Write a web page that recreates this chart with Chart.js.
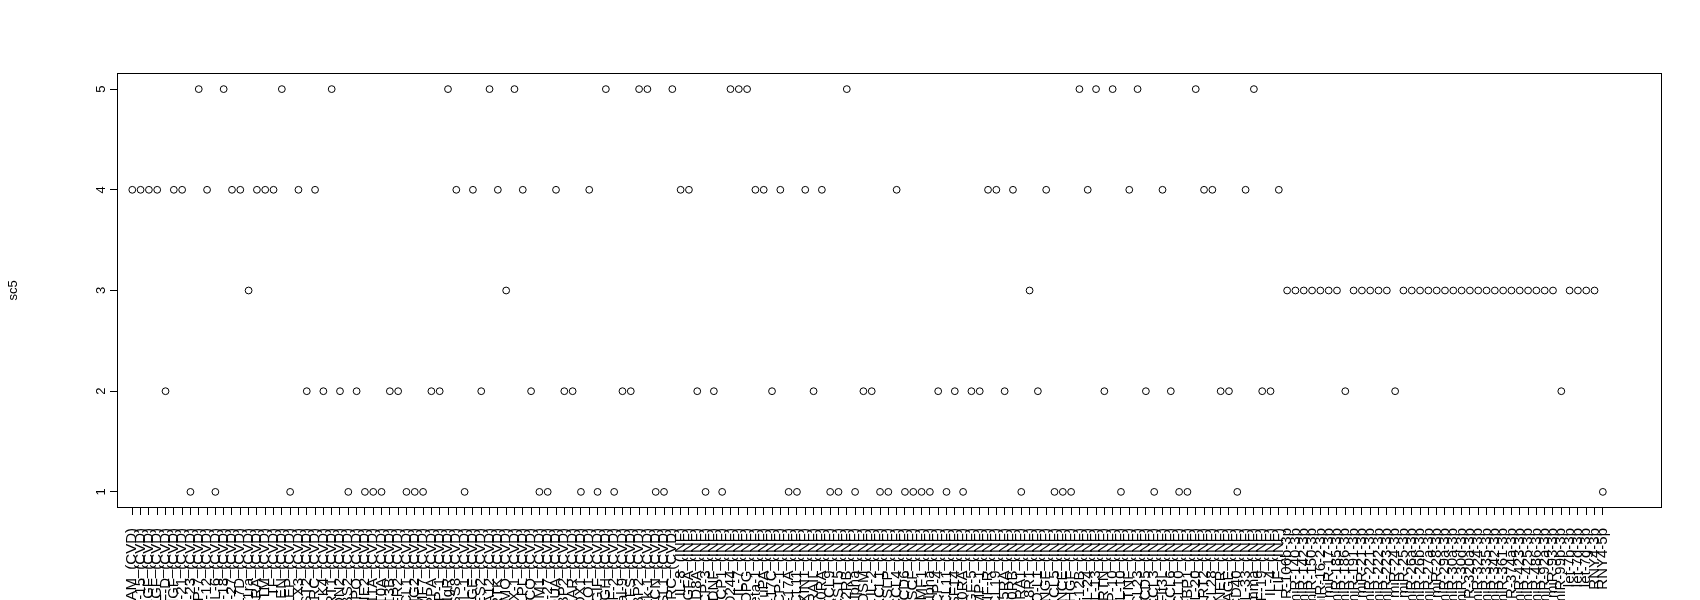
<!DOCTYPE html>
<html><head><meta charset="utf-8">
<script src="https://cdn.jsdelivr.net/npm/chart.js@4/dist/chart.umd.min.js"></script>
<style>html,body{margin:0;padding:0;background:#fff;}canvas{display:block;}</style>
</head><body>
<canvas id="c" width="1700" height="600"></canvas>
<script>
// ---- data ----
const cvdNames = ["AM","GDF-15","IGF","HB-EGF","VEGF-D","PlGF","FGF-21","FGF-23","MMP-7","MMP-12",
 "IL-6","IL-18","IL-27","IL-17D","IL-1ra","IL-4RA","TM","TF","REN","LEP",
 "PTX3","ST2","SRC","STK4","SORT1","SPON2","THBS2","THPO","TIE2","TNFRSF11A",
 "TNFRSF10A","TNFRSF13B","TRAIL-R2","XCL1","VSIG2","SLAMF7","PAPPA","PARP-1","PIgR","PRSS8",
 "PSGL-1","RAGE","RARRES2","SERPINA12","MERTK","NEMO","LOX-1","LPL","MARCO","KIM1",
 "HSP-27","IDUA","ITGB1BP2","hOSCAR","HAOX1","GLO1","GIF","GH","GDF-2","Gal-9",
 "FS","FABP2","Dkk-1","DCN","CTSL1","CTRC"];
const infNames = ["IL-8","VEGFA","CD8A","MCP-3","GDNF","CDCP1","CD244","IL-7","OPG","LAP-TGF-beta-1",
 "uPA","IL-17C","MCP-1","IL-17A","CXCL11","AXIN1","TRAIL","IL-20RA","CXCL9","CST5",
 "IL-2RB","IL-1-alpha","OSM","IL-2","CXCL1","TSLP","CCL4","CD6","SCF","SLAMF1",
 "TGF-alpha","MCP-4","CCL11","TNFSF14","IL-10RA","FGF-5","MMP-1","LIF-R","CCL19","IL-15RA",
 "IL-10RB","IL-22-RA1","IL-18R1","PD-L1","Beta-NGF","CXCL5","TRANCE","HGF","IL-12B","IL-24",
 "IL-13","ARTN","MMP-10","IL-10","TNF","CCL23","CD5","CCL3","Flt3L","CXCL6",
 "CXCL10","4E-BP1","IL-20","SIRT2","CCL28","DNER","EN-RAGE","CD40","IL-33","IFN-gamma",
 "FGF-19","IL-4","LIF"];
const mirNames = ["miR-106b-3p","miR-140-3p","miR-142-3p","miR-150-3p","miR-16-2-3p","miR-17-3p","miR-185-3p","miR-186-3p","miR-191-3p","miR-21-3p",
 "miR-221-3p","miR-222-3p","miR-223-3p","miR-24-3p","miR-25-3p","miR-26a-3p","miR-26b-3p","miR-27a-3p","miR-28-3p","miR-29a-3p",
 "miR-30a-3p","miR-30d-3p","miR-320a-3p","miR-324-3p","miR-335-3p","miR-342-3p","miR-361-3p","miR-374a-3p","miR-423-3p","miR-425-3p",
 "miR-486-3p","miR-92a-3p","miR-93-3p","miR-99b-3p","let-7b-3p","let-7d-3p","let-7g-3p","RNY4-3p","RNY4-5p"];

const cvdValues = [4,4,4,4,2,4,4,1,5,4, 1,5,4,4,3,4,4,4,5,1, 4,2,4,2,5,2,1,2,1,1,
 1,2,2,1,1,1,2,2,5,4, 1,4,2,5,4,3,5,4,2,1, 1,4,2,2,1,4,1,5,1,2, 2,5,5,1,1,5];
const infValues = [4,4,2,1, 2,1,5,5,5,4,4,2,4,1, 1,4,2,4,1,1,5,1,2,2, 1,1,4,1,1,1,1,2,1,2,
 1,2,2,4,4,2,4,1,3,2, 4,1,1,1,5,4,5,2,5,1, 4,5,2,1,4,2,1,1,5,4, 4,2,2,1,4,5,2,2,4];
const mirValues = [3,3,3,3,3,3,3,2,3,3, 3,3,3,2,3,3,3,3,3,3, 3,3,3,3,3,3,3,3,3,3, 3,3,3,2,3,3,3,3,1];

const yTicks = [1,2,3,4,5];
const yTitle = "sc5";

// ---- build ----
const categories = [
  ...cvdNames.map(n => n + "_(CVD)"),
  ...infNames.map(n => n + "_(INF)"),
  ...mirNames
];
const values = [...cvdValues, ...infValues, ...mirValues];
const points = values.map((v, i) => ({x: i, y: v}));

const FONT = "'Liberation Sans', Arial, sans-serif";

const rDecor = {
  id: 'rDecor',
  afterDraw(chart) {
    const ctx = chart.ctx, a = chart.chartArea, ys = chart.scales.y;
    ctx.save();
    ctx.strokeStyle = '#000'; ctx.lineWidth = 1;
    ctx.strokeRect(Math.round(a.left) + 0.5, Math.round(a.top) + 0.5,
                   Math.round(a.right - a.left) - 1, Math.round(a.bottom - a.top) - 1);
    ctx.fillStyle = '#000';
    ctx.font = '13px ' + FONT;
    ctx.textAlign = 'center'; ctx.textBaseline = 'middle';
    yTicks.forEach(v => {
      const py = ys.getPixelForValue(v);
      ctx.save(); ctx.translate(a.left - 16, py); ctx.rotate(-Math.PI / 2);
      ctx.fillText(String(v), 0, 0); ctx.restore();
    });
    ctx.save(); ctx.translate(13, (a.top + a.bottom) / 2); ctx.rotate(-Math.PI / 2);
    ctx.fillText(yTitle, 0, 0); ctx.restore();
    ctx.restore();
  }
};

new Chart(document.getElementById('c').getContext('2d'), {
  type: 'scatter',
  data: { datasets: [{
    data: points, showLine: false,
    pointStyle: 'circle', pointRadius: 3.4, pointHoverRadius: 3.4,
    borderColor: '#000', backgroundColor: 'rgba(0,0,0,0)',
    pointBorderColor: '#000', pointBackgroundColor: 'rgba(0,0,0,0)', pointBorderWidth: 1
  }]},
  options: {
    responsive: false, animation: false, devicePixelRatio: 1,
    layout: { padding: { left: 0, right: 38, top: 73, bottom: 0 } },
    plugins: { legend: { display: false }, tooltip: { enabled: false } },
    events: [],
    scales: {
      x: {
        type: 'linear', min: -1.84, max: 184.12,
        afterBuildTicks: s => { s.ticks = categories.map((_, i) => ({ value: i })); },
        afterFit: s => { s.height = 92; s.paddingLeft = 0; s.paddingRight = 0; },
        grid: { display: true, drawOnChartArea: false, drawTicks: true, tickLength: 7, color: '#000', lineWidth: 1 },
        border: { display: false },
        ticks: {
          autoSkip: false, minRotation: 90, maxRotation: 90, padding: 13,
          color: '#000', font: { family: FONT, size: 15 },
          callback: v => categories[v]
        }
      },
      y: {
        type: 'linear', min: 0.84, max: 5.16,
        afterBuildTicks: s => { s.ticks = yTicks.map(v => ({ value: v })); },
        afterFit: s => { s.width = 117; s.paddingTop = 0; s.paddingBottom = 0; },
        grid: { display: true, drawOnChartArea: false, drawTicks: true, tickLength: 7, color: '#000', lineWidth: 1 },
        border: { display: false },
        ticks: { display: false }
      }
    }
  },
  plugins: [rDecor]
});
</script>
</body></html>
